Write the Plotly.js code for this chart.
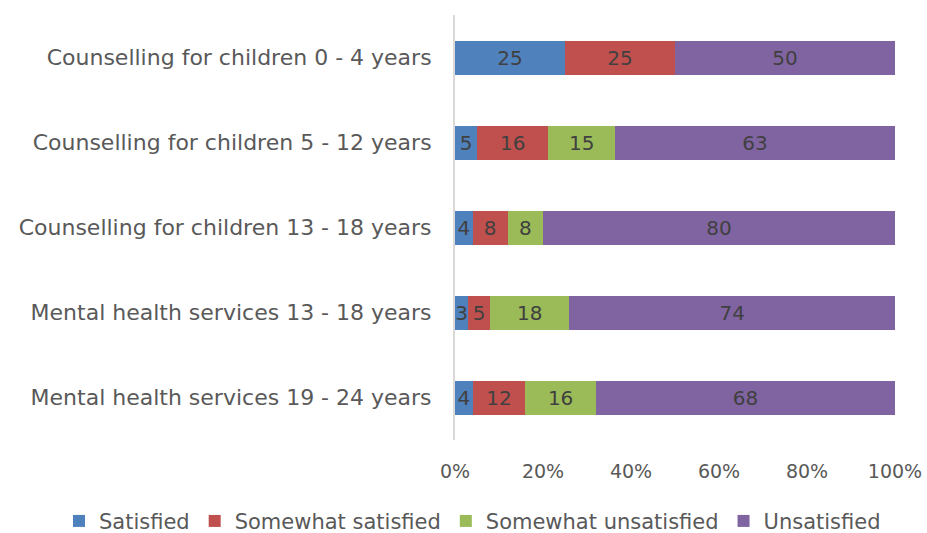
<!DOCTYPE html>
<html><head><meta charset="utf-8">
<script src="https://cdn.plot.ly/plotly-3.0.1.min.js"></script>
<style>html,body{margin:0;padding:0;background:#fff}#chart{width:927px;height:533px}</style>
</head><body><div id="chart"></div>
<script>
const categories = [
  "Counselling for children 0 - 4 years",
  "Counselling for children 5 - 12 years",
  "Counselling for children 13 - 18 years",
  "Mental health services 13 - 18 years",
  "Mental health services 19 - 24 years"
];
const satisfied = [25, 5, 4, 3, 4];
const somewhatSatisfied = [25, 16, 8, 5, 12];
const somewhatUnsatisfied = [0, 15, 8, 18, 16];
const unsatisfied = [50, 63, 80, 74, 68];
const seriesNames = ["Satisfied", "Somewhat satisfied", "Somewhat unsatisfied", "Unsatisfied"];
const colors = ["#4F81BD", "#C0504D", "#9BBB59", "#8064A2"];
const xTickVals = [0, 20, 40, 60, 80, 100];
const xTickText = ["0%", "20%", "40%", "60%", "80%", "100%"];

const FONT = "DejaVu Sans";
const series = [satisfied, somewhatSatisfied, somewhatUnsatisfied, unsatisfied];
const traces = series.map((vals, i) => ({
  type: "bar",
  orientation: "h",
  name: seriesNames[i],
  y: categories,
  x: vals,
  text: vals.map(v => v === 0 ? "" : String(v)),
  textposition: "inside",
  insidetextanchor: "middle",
  textangle: 0,
  constraintext: "none",
  cliponaxis: false,
  textfont: {family: FONT, size: 20, color: "#404040"},
  marker: {color: colors[i], line: {width: 0}},
  hoverinfo: "none"
}));

const layout = {
  width: 927, height: 533,
  margin: {l: 455, r: 32, t: 15, b: 93, autoexpand: false},
  barmode: "stack",
  barnorm: "percent",
  bargap: 0.6,
  paper_bgcolor: "#fff",
  plot_bgcolor: "#fff",
  font: {family: FONT, size: 19, color: "#595959"},
  showlegend: true,
  legend: {
    orientation: "h", xref: "paper", yref: "paper",
    x: -0.90, xanchor: "left", y: -0.143, yanchor: "top",
    font: {family: FONT, size: 21, color: "#595959"},
    traceorder: "normal", itemwidth: 30, tracegroupgap: 0
  },
  xaxis: {
    range: [0, 100], tickvals: xTickVals, ticktext: xTickText,
    showgrid: false, zeroline: false, showline: false, ticks: "",
    ticklabelstandoff: 18, fixedrange: true
  },
  yaxis: {
    autorange: "reversed", showgrid: false, zeroline: false,
    showline: true, linecolor: "#D9D9D9", linewidth: 2, ticks: "",
    ticklabelstandoff: 17, fixedrange: true,
    tickfont: {family: FONT, size: 22, color: "#595959"}
  }
};
Plotly.newPlot("chart", traces, layout, {displayModeBar: false, staticPlot: true});
</script></body></html>
